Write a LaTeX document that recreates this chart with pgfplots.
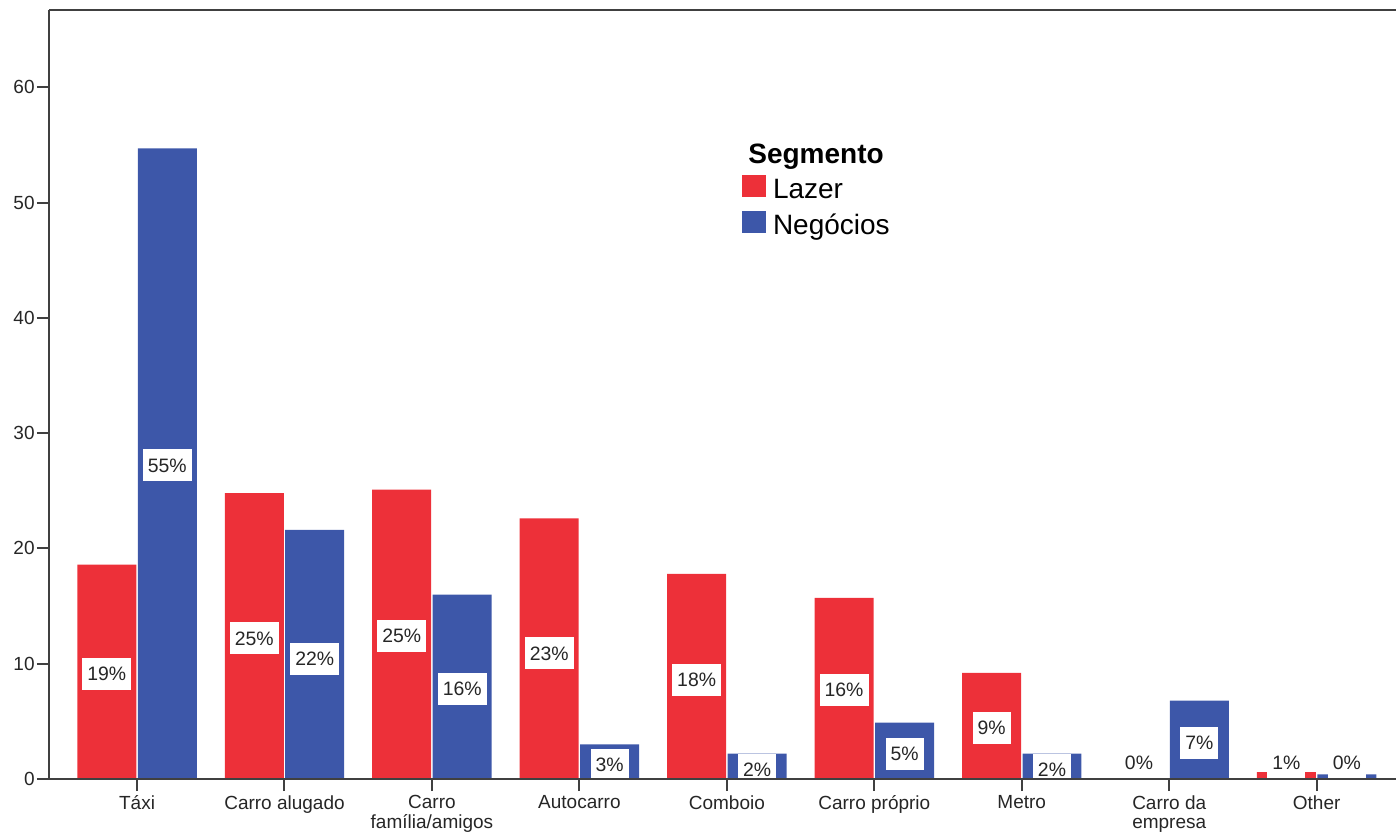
\documentclass[border=0pt]{standalone}
\usepackage{fontspec}
\setmainfont{Liberation Sans}
\usepackage{pgfplots}
\usepackage{pgfplotstable}
\pgfplotsset{compat=1.18}

\definecolor{lazer}{RGB}{237,48,57}
\definecolor{negocios}{RGB}{61,87,169}

% Share of trips by transport mode, per segment (%),
% with the height at which each value label sits
\pgfplotstableread{
cat lazer neg lazlab neglab
0 18.6 54.7 9.1 27.2
1 24.8 21.6 12.2 10.4
2 25.1 16.0 12.4 7.8
3 22.6 3.0 10.9 1.2
4 17.8 2.2 8.6 0.8
5 15.7 4.9 7.7 2.2
6 9.2 2.2 4.4 0.8
7 0.0 6.8 1.4 3.1
8 0.6 0.4 1.4 1.4
}\modes

\begin{document}
\begin{tikzpicture}
\begin{axis}[
  name=ax,
  set layers,
  scale only axis,
  width=673.5pt, height=384.5pt,
  xmin=-0.597, xmax=8.538,
  ymin=0, ymax=66.7,
  enlargelimits=false,
  axis x line=box,
  axis y line=left,
  axis line style={-, draw=black!75, line width=1pt},
  x axis line style={-},
  y axis line style={-},
  axis on top,
  tick align=outside,
  major tick length=6pt,
  tick style={draw=black!75, line width=1pt},
  xtick pos=bottom,
  ytick pos=left,
  xtick={0,...,8},
  xticklabels={T\'axi, Carro alugado, {Carro\\fam\'ilia/amigos}, Autocarro, Comboio,
    {Carro pr\'oprio}, Metro, {Carro da\\empresa}, Other},
  ytick={0,10,...,60},
  /pgf/number format/assume math mode=true,
  ticklabel style={font=\fontsize{9.5}{9.8}\selectfont, text=black!85},
  xticklabel style={align=center, inner sep=2pt},
  yticklabel style={inner xsep=1pt},
  legend cell align=left,
  legend image code/.code={\fill[#1] (0pt,-2.75pt) rectangle (12pt,8.25pt);},
  legend style={
    at={(axis cs:4.10,52.45)}, anchor=north west,
    draw=none, fill=none, inner sep=0pt,
    font=\fontsize{14}{16}\selectfont,
    nodes={inner sep=0pt, text height=10pt, text depth=3pt},
    column sep=3.5pt, row sep=3.5pt,
  },
  every node near coord/.style={
    anchor=center, fill=white, text=black!85,
    font=\fontsize{9.7}{9.8}\selectfont,
    inner xsep=2.5pt, inner ysep=4.3pt, text height=7pt, text depth=0.3pt,
  },
]
  \addplot[ybar, bar width=0.4, bar shift=-0.205, fill=lazer, draw=none]
    table[x=cat, y=lazer] {\modes};
  \addlegendentry{Lazer}
  \addplot[ybar, bar width=0.4, bar shift=0.205, fill=negocios, draw=none]
    table[x=cat, y=neg] {\modes};
  \addlegendentry{Neg\'ocios}

  % value labels, centred inside the bars
  \addplot[draw=none, mark=none, forget plot, point meta=explicit,
    nodes near coords={\pgfmathprintnumber[fixed,precision=0]{\pgfplotspointmeta}\%}]
    table[x expr=\thisrow{cat}-0.205, y=lazlab, meta=lazer] {\modes};
  \addplot[draw=none, mark=none, forget plot, point meta=explicit,
    nodes near coords={\pgfmathprintnumber[fixed,precision=0]{\pgfplotspointmeta}\%}]
    table[x expr=\thisrow{cat}+0.205, y=neglab, meta=neg] {\modes};

  \node[anchor=base west, inner sep=0pt, font=\fontsize{14}{16}\selectfont\bfseries]
    at (axis cs:4.143,53.4) {Segmento};
\end{axis}
\pgfresetboundingbox
\path[use as bounding box] ([xshift=-24.5pt,yshift=-27.5pt]ax.south west)
  rectangle ([yshift=5pt]ax.north east);
\end{tikzpicture}
\end{document}
